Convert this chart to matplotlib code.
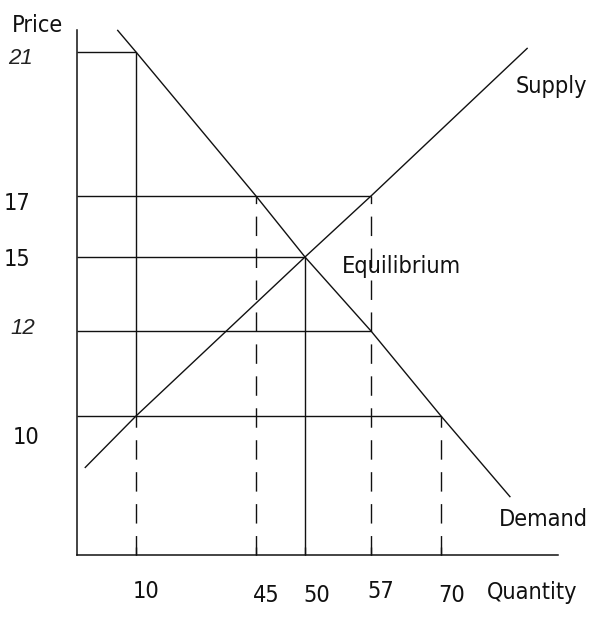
import numpy as np
import matplotlib
matplotlib.use("Agg")
import matplotlib.pyplot as plt
import matplotlib.font_manager as fm

# ---- values ----
demand_qty = [6.9, 10, 45, 50, 57, 70, 82.8]
demand_price = [21.6, 21, 17, 15, 12, 10, 4.2]
supply_qty = [1.4, 10, 50, 57, 86.0]
supply_price = [6.3, 10, 15, 17, 21.1]

price_levels = [21, 17, 15, 12, 10]
price_reach = [10, 57, 50, 57, 70]          # quantity where each price line stops
price_italic = [True, False, False, True, False]

qty_marks = [10, 45, 50, 57, 70]
solid_qty = [10, 50]
solid_from = [10, 0]
solid_to = [21, 15]
dash_qty = [10, 45, 57, 70]
dash_to = [10, 17, 17, 10]

# the axes of the sketch are hand drawn, so the scale is piecewise
qty_axis = [0, 10, 45, 50, 57, 70]
qty_px = [77, 136, 256, 305, 371, 441]
price_axis = [0, 10, 12, 15, 17, 21]
price_px = [555, 416, 331, 257, 196, 52]

W, H = 593, 617


def piecewise(vals, pos):
    vals = np.asarray(vals, float)
    pos = np.asarray(pos, float)
    lo = (pos[1] - pos[0]) / (vals[1] - vals[0])
    hi = (pos[-1] - pos[-2]) / (vals[-1] - vals[-2])

    def fwd(v):
        v = np.asarray(v, float)
        out = np.interp(v, vals, pos)
        out = np.where(v < vals[0], pos[0] + (v - vals[0]) * lo, out)
        return np.where(v > vals[-1], pos[-1] + (v - vals[-1]) * hi, out)

    def inv(p):
        p = np.asarray(p, float)
        out = np.interp(p, pos, vals)
        out = np.where(p < pos[0], vals[0] + (p - pos[0]) / lo, out)
        return np.where(p > pos[-1], vals[-1] + (p - pos[-1]) / hi, out)

    return fwd, inv


# the sketch uses a very narrow font, look for the narrowest one around
def narrow_font():
    best = None
    for f in fm.fontManager.ttflist:
        tag = (f.name + " " + f.fname).lower()
        if f.style != "normal" or "bold" in tag or "light" in tag or "thin" in tag:
            continue
        if "narrow" in tag or "condensed" in tag or "cond" in tag:
            score = 0 if "sans" in tag else 1
            if best is None or score < best[0]:
                best = (score, f.fname)
    if best:
        return fm.FontProperties(fname=best[1])
    return fm.FontProperties(family="DejaVu Sans")


fx, fx_inv = piecewise(qty_axis, qty_px)
fy, fy_inv = piecewise(price_axis, [H - p for p in price_px])

fig = plt.figure(figsize=(W / 100, H / 100), dpi=100)
ax = fig.add_axes([0, 0, 1, 1])
ax.set_xscale("function", functions=(fx, fx_inv))
ax.set_yscale("function", functions=(fy, fy_inv))
ax.set_xlim(float(fx_inv(0)), float(fx_inv(W)))
ax.set_ylim(float(fy_inv(0)), float(fy_inv(H)))

# size the font a bit wider than the sketch's "Equilibrium" (92 px)
fp = narrow_font()
renderer = fig.canvas.get_renderer()
probe = fig.text(0, 0, "Equilibrium", fontproperties=fp, size=20)
wpx = probe.get_window_extent(renderer).width
probe.remove()
fs = min(22, 20 * 92 * 1.3 / wpx)
font = dict(fontproperties=fp.copy())
font["fontproperties"].set_size(fs)

ink = "#111111"
lw = 1.0
dash = (0, (14, 9))

# axes
for side in ["top", "right"]:
    ax.spines[side].set_visible(False)
ax.spines["left"].set_position(("data", 0))
ax.spines["bottom"].set_position(("data", 0))
ax.spines["left"].set_bounds(0, float(fy_inv(H - 30)))
ax.spines["bottom"].set_bounds(0, float(fx_inv(558)))
for side in ["left", "bottom"]:
    ax.spines[side].set_linewidth(1.1)
    ax.spines[side].set_color(ink)
ax.set_yticks([])
ax.set_xticks(qty_marks)
ax.tick_params(axis="x", direction="in", length=6, width=1, color=ink,
               labelbottom=False)
ax.minorticks_off()

# curves
ax.plot(demand_qty, demand_price, color=ink, lw=lw)
ax.plot(supply_qty, supply_price, color=ink, lw=lw)

# guide lines
ax.hlines(price_levels, 0, price_reach, color=ink, lw=lw)
ax.vlines(solid_qty, solid_from, solid_to, color=ink, lw=lw)
ax.vlines(dash_qty, 0, dash_to, color=ink, lw=lw, linestyles=[dash])

# price labels
price_off = [(-57, -7), (-60, -7), (-60, -3), (-54, 3), (-51, -21)]
for p, it, off in zip(price_levels, price_italic, price_off):
    if it:
        kw = dict(family=["Liberation Sans", "DejaVu Sans"], style="italic",
                  size=16, color="#222222")
    else:
        kw = dict(font, color=ink)
    ax.annotate(str(p), xy=(0, p), xytext=off, textcoords="offset pixels",
                ha="center", va="center", **kw)

# quantity labels
qty_off = [(10, -37), (10, -41), (12, -41), (10, -37), (11, -40)]
for q, off in zip(qty_marks, qty_off):
    ax.annotate(str(q), xy=(q, 0), xytext=off, textcoords="offset pixels",
                ha="center", va="center", color=ink, **font)

# names, anchored on the edge the sketch lines them up with
names = [("Price", 12, 25, "left"), ("Supply", 587, 87, "right"),
         ("Demand", 588, 519, "right"), ("Equilibrium", 342, 266, "left"),
         ("Quantity", 577, 593, "right")]
for txt, px, py, ha in names:
    fig.text(px / W, 1 - py / H, txt, ha=ha, va="center", color=ink, **font)

fig.savefig("out.png", dpi=100, facecolor="white")
